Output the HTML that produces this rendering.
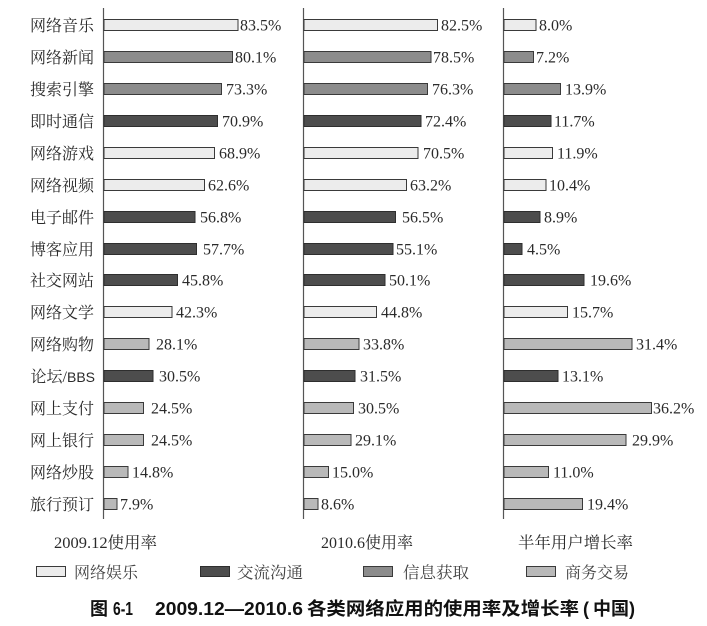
<!DOCTYPE html>
<html><head><meta charset="utf-8">
<style>
html,body{margin:0;padding:0;background:#fff;}
svg{display:block;}
.lab{font-family:"Liberation Serif","Noto Serif CJK SC",serif;font-size:16px;fill:#2a2a2a;}
.val{font-family:"Liberation Serif","Noto Serif CJK SC",serif;font-size:16px;fill:#2a2a2a;}
.leg{font-family:"Liberation Serif","Noto Serif CJK SC",serif;font-size:16px;fill:#444;}
.cap{font-family:"Liberation Sans","Noto Sans CJK SC",sans-serif;font-size:18px;font-weight:700;fill:#111;}
.e{fill:#ececec;stroke:#3a3a3a;stroke-width:1;}
.c{fill:#4d4d4d;stroke:#2e2e2e;stroke-width:1;}
.i{fill:#8c8c8c;stroke:#3a3a3a;stroke-width:1;}
.m{fill:#b9b9b9;stroke:#3a3a3a;stroke-width:1;}
</style></head>
<body>
<svg width="707" height="626" viewBox="0 0 707 626" xmlns="http://www.w3.org/2000/svg">
<rect width="707" height="626" fill="#fff"/>
<line x1="103.5" y1="8" x2="103.5" y2="519" stroke="#555" stroke-width="1.2"/>
<line x1="303.5" y1="8" x2="303.5" y2="519" stroke="#555" stroke-width="1.2"/>
<line x1="503.5" y1="8" x2="503.5" y2="519" stroke="#555" stroke-width="1.2"/>

<g class="lab" text-anchor="end">
<text x="94" y="31">网络音乐</text>
<text x="94" y="63">网络新闻</text>
<text x="94" y="95">搜索引擎</text>
<text x="94" y="127">即时通信</text>
<text x="94" y="159">网络游戏</text>
<text x="94" y="191">网络视频</text>
<text x="94" y="223">电子邮件</text>
<text x="94" y="255">博客应用</text>
<text x="94" y="286">社交网站</text>
<text x="94" y="318">网络文学</text>
<text x="94" y="350">网络购物</text>
<text x="95" y="382">论坛/<tspan font-family="Liberation Sans, sans-serif" font-size="14">BBS</tspan></text>
<text x="94" y="414">网上支付</text>
<text x="94" y="446">网上银行</text>
<text x="94" y="478">网络炒股</text>
<text x="94" y="510">旅行预订</text>
</g>

<rect class="e" x="104" y="19.5" width="134" height="11"/>
<rect class="i" x="104" y="51.5" width="128.5" height="11"/>
<rect class="i" x="104" y="83.5" width="117.5" height="11"/>
<rect class="c" x="104" y="115.5" width="113.5" height="11"/>
<rect class="e" x="104" y="147.5" width="110.5" height="11"/>
<rect class="e" x="104" y="179.5" width="100.5" height="11"/>
<rect class="c" x="104" y="211.5" width="91" height="11"/>
<rect class="c" x="104" y="243.5" width="92.5" height="11"/>
<rect class="c" x="104" y="274.5" width="73.5" height="11"/>
<rect class="e" x="104" y="306.5" width="68" height="11"/>
<rect class="m" x="104" y="338.5" width="45" height="11"/>
<rect class="c" x="104" y="370.5" width="49" height="11"/>
<rect class="m" x="104" y="402.5" width="39.5" height="11"/>
<rect class="m" x="104" y="434.5" width="39.5" height="11"/>
<rect class="m" x="104" y="466.5" width="24" height="11"/>
<rect class="m" x="104" y="498.5" width="13" height="11"/>
<g class="val">
<text x="240" y="30.5">83.5%</text>
<text x="235" y="62.5">80.1%</text>
<text x="226" y="94.5">73.3%</text>
<text x="222" y="126.5">70.9%</text>
<text x="219" y="158.5">68.9%</text>
<text x="208" y="190.5">62.6%</text>
<text x="200" y="222.5">56.8%</text>
<text x="203" y="254.5">57.7%</text>
<text x="182" y="285.5">45.8%</text>
<text x="176" y="317.5">42.3%</text>
<text x="156" y="349.5">28.1%</text>
<text x="159" y="381.5">30.5%</text>
<text x="151" y="413.5">24.5%</text>
<text x="151" y="445.5">24.5%</text>
<text x="132" y="477.5">14.8%</text>
<text x="120" y="509.5">7.9%</text>
</g>

<rect class="e" x="304" y="19.5" width="133.5" height="11"/>
<rect class="i" x="304" y="51.5" width="127" height="11"/>
<rect class="i" x="304" y="83.5" width="123.5" height="11"/>
<rect class="c" x="304" y="115.5" width="117" height="11"/>
<rect class="e" x="304" y="147.5" width="114" height="11"/>
<rect class="e" x="304" y="179.5" width="102.5" height="11"/>
<rect class="c" x="304" y="211.5" width="91.5" height="11"/>
<rect class="c" x="304" y="243.5" width="89" height="11"/>
<rect class="c" x="304" y="274.5" width="81" height="11"/>
<rect class="e" x="304" y="306.5" width="72.5" height="11"/>
<rect class="m" x="304" y="338.5" width="55" height="11"/>
<rect class="c" x="304" y="370.5" width="51" height="11"/>
<rect class="m" x="304" y="402.5" width="49.5" height="11"/>
<rect class="m" x="304" y="434.5" width="47" height="11"/>
<rect class="m" x="304" y="466.5" width="24.5" height="11"/>
<rect class="m" x="304" y="498.5" width="14" height="11"/>
<g class="val">
<text x="441" y="30.5">82.5%</text>
<text x="433" y="62.5">78.5%</text>
<text x="432" y="94.5">76.3%</text>
<text x="425" y="126.5">72.4%</text>
<text x="423" y="158.5">70.5%</text>
<text x="410" y="190.5">63.2%</text>
<text x="402" y="222.5">56.5%</text>
<text x="396" y="254.5">55.1%</text>
<text x="389" y="285.5">50.1%</text>
<text x="381" y="317.5">44.8%</text>
<text x="363" y="349.5">33.8%</text>
<text x="360" y="381.5">31.5%</text>
<text x="358" y="413.5">30.5%</text>
<text x="355" y="445.5">29.1%</text>
<text x="332" y="477.5">15.0%</text>
<text x="321" y="509.5">8.6%</text>
</g>

<rect class="e" x="504" y="19.5" width="32" height="11"/>
<rect class="i" x="504" y="51.5" width="29.5" height="11"/>
<rect class="i" x="504" y="83.5" width="56.5" height="11"/>
<rect class="c" x="504" y="115.5" width="47" height="11"/>
<rect class="e" x="504" y="147.5" width="48.5" height="11"/>
<rect class="e" x="504" y="179.5" width="42" height="11"/>
<rect class="c" x="504" y="211.5" width="36" height="11"/>
<rect class="c" x="504" y="243.5" width="18" height="11"/>
<rect class="c" x="504" y="274.5" width="80" height="11"/>
<rect class="e" x="504" y="306.5" width="63.5" height="11"/>
<rect class="m" x="504" y="338.5" width="128" height="11"/>
<rect class="c" x="504" y="370.5" width="54" height="11"/>
<rect class="m" x="504" y="402.5" width="147.5" height="11"/>
<rect class="m" x="504" y="434.5" width="122" height="11"/>
<rect class="m" x="504" y="466.5" width="44.5" height="11"/>
<rect class="m" x="504" y="498.5" width="78.5" height="11"/>
<g class="val">
<text x="539" y="30.5">8.0%</text>
<text x="536" y="62.5">7.2%</text>
<text x="565" y="94.5">13.9%</text>
<text x="554" y="126.5">11.7%</text>
<text x="557" y="158.5">11.9%</text>
<text x="549" y="190.5">10.4%</text>
<text x="544" y="222.5">8.9%</text>
<text x="527" y="254.5">4.5%</text>
<text x="590" y="285.5">19.6%</text>
<text x="572" y="317.5">15.7%</text>
<text x="636" y="349.5">31.4%</text>
<text x="562" y="381.5">13.1%</text>
<text x="653" y="413.5">36.2%</text>
<text x="632" y="445.5">29.9%</text>
<text x="553" y="477.5">11.0%</text>
<text x="587" y="509.5">19.4%</text>
</g>

<g class="lab">
<text x="54" y="548" textLength="103" lengthAdjust="spacingAndGlyphs">2009.12使用率</text>
<text x="321" y="548" textLength="92" lengthAdjust="spacingAndGlyphs">2010.6使用率</text>
<text x="518" y="548" textLength="115" lengthAdjust="spacingAndGlyphs">半年用户增长率</text>
</g>

<rect class="e" x="36.5" y="566.5" width="29" height="10"/>
<rect class="c" x="200.5" y="566.5" width="29" height="10"/>
<rect class="i" x="363.5" y="566.5" width="29" height="10"/>
<rect class="m" x="526.5" y="566.5" width="29" height="10"/>
<g class="leg">
<text x="74" y="578" textLength="64" lengthAdjust="spacingAndGlyphs">网络娱乐</text>
<text x="237" y="578" textLength="66" lengthAdjust="spacingAndGlyphs">交流沟通</text>
<text x="403" y="578" textLength="66" lengthAdjust="spacingAndGlyphs">信息获取</text>
<text x="565" y="578" textLength="64" lengthAdjust="spacingAndGlyphs">商务交易</text>
</g>

<g class="cap">
<text x="90" y="615">图</text>
<text x="113" y="615" textLength="20" lengthAdjust="spacingAndGlyphs">6-1</text>
<text x="155" y="615" textLength="148" lengthAdjust="spacingAndGlyphs">2009.12—2010.6</text>
<text x="307" y="615" textLength="272" lengthAdjust="spacingAndGlyphs">各类网络应用的使用率及增长率</text>
<text x="583" y="615">(</text>
<text x="593" y="615">中</text>
<text x="611" y="615">国</text>
<text x="629" y="615">)</text>
</g>
</svg>
</body></html>
